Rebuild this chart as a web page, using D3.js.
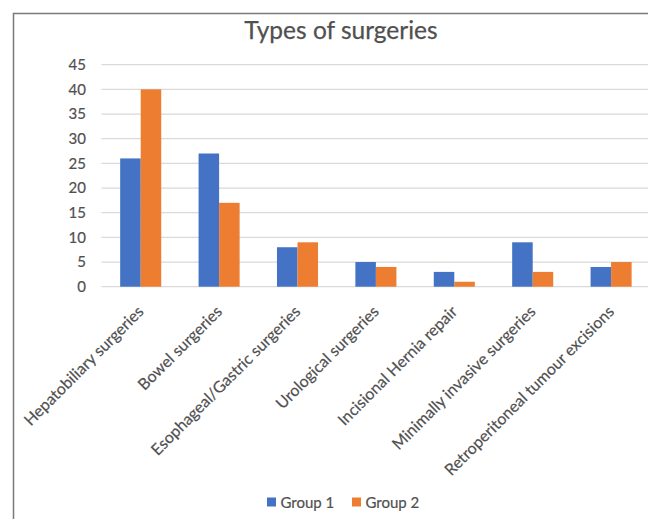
<!DOCTYPE html>
<html>
<head>
<meta charset="utf-8">
<script src="https://cdn.jsdelivr.net/npm/d3@7"></script>
<style>
  html, body { margin: 0; padding: 0; background: #fff; }
  svg { display: block; font-family: Lato, "Open Sans", sans-serif; }
</style>
</head>
<body>
<svg id="chart" width="648" height="519"></svg>
<script>
const title = "Types of surgeries";
const categories = [
  "Hepatobiliary surgeries",
  "Bowel surgeries",
  "Esophageal/Gastric surgeries",
  "Urological surgeries",
  "Incisional Hernia repair",
  "Minimally invasive  surgeries",
  "Retroperitoneal tumour excisions"
];
const seriesNames = ["Group 1", "Group 2"];
const group1 = [26, 27, 8, 5, 3, 9, 4];
const group2 = [40, 17, 9, 4, 1, 3, 5];
const yTicks = [0, 5, 10, 15, 20, 25, 30, 35, 40, 45];
const colors = ["#4472C4", "#ED7D31"];

const textColor = "#505050";
const svg = d3.select("#chart");
svg.append("rect").attr("width", 648).attr("height", 519).attr("fill", "#fff");

// frame (only left and top edges visible in the crop)
svg.append("path")
  .attr("d", "M13.5,519 L13.5,13.5 L648,13.5")
  .attr("fill", "none").attr("stroke", "#7a7a7a").attr("stroke-width", 1.5);

const plot = { left: 101.5, right: 650.3, top: 64.7, bottom: 286.7 };

const y = d3.scaleLinear().domain([0, 45]).range([plot.bottom, plot.top]);
const x0 = d3.scaleBand().domain(categories).range([plot.left, plot.right]).padding(0);
const x1 = d3.scaleBand().domain(seriesNames).range([0, x0.bandwidth()])
  .paddingInner(0).paddingOuter(0.91);

// title
svg.append("text")
  .attr("x", 341).attr("y", 38.5)
  .attr("text-anchor", "middle")
  .attr("font-size", 24.5).attr("fill", textColor)
  .attr("stroke", textColor).attr("stroke-width", 0.25)
  .text(title);

// gridlines
svg.append("g").selectAll("line").data(yTicks).join("line")
  .attr("x1", plot.left).attr("x2", 648)
  .attr("y1", d => y(d)).attr("y2", d => y(d))
  .attr("stroke", "#d9d9d9").attr("stroke-width", 1.2);

// y axis labels
const yAxis = d3.axisLeft(y).tickValues(yTicks).tickSize(0).tickPadding(0);
const yg = svg.append("g").attr("transform", "translate(86,0)").call(yAxis);
yg.select(".domain").remove();
yg.selectAll("text").attr("font-size", 15).attr("fill", textColor)
  .attr("stroke", textColor).attr("stroke-width", 0.2)
  .attr("font-family", "Lato, 'Open Sans', sans-serif");

// bars
const data = categories.map((c, i) => ({ cat: c, vals: [group1[i], group2[i]] }));
const gCat = svg.append("g").selectAll("g").data(data).join("g")
  .attr("transform", d => `translate(${x0(d.cat)},0)`);
gCat.selectAll("rect").data(d => d.vals.map((v, j) => ({ s: seriesNames[j], v, j })))
  .join("rect")
  .attr("x", d => x1(d.s))
  .attr("width", x1.bandwidth())
  .attr("y", d => y(d.v))
  .attr("height", d => y(0) - y(d.v))
  .attr("fill", d => colors[d.j]);

// category labels
const xAxis = d3.axisBottom(x0).tickSize(0).tickPadding(0);
const xg = svg.append("g").attr("transform", `translate(0,${plot.bottom})`).call(xAxis);
xg.select(".domain").remove();
xg.selectAll("text")
  .attr("font-size", 16).attr("fill", textColor)
  .attr("stroke", textColor).attr("stroke-width", 0.2)
  .attr("font-family", "Lato, 'Open Sans', sans-serif")
  .attr("text-anchor", "end")
  .attr("dy", null)
  .attr("y", null)
  .attr("transform", "translate(4,26) rotate(-45)");

// legend
const legendX = [267, 352];
const lg = svg.append("g").selectAll("g").data(seriesNames).join("g")
  .attr("transform", (d, i) => `translate(${legendX[i]},497.5)`);
lg.append("rect").attr("width", 9).attr("height", 9).attr("fill", (d, i) => colors[i]);
lg.append("text").attr("x", 13.5).attr("y", 10)
  .attr("font-size", 15).attr("fill", textColor)
  .attr("stroke", textColor).attr("stroke-width", 0.2)
  .text(d => d);
</script>
</body>
</html>
